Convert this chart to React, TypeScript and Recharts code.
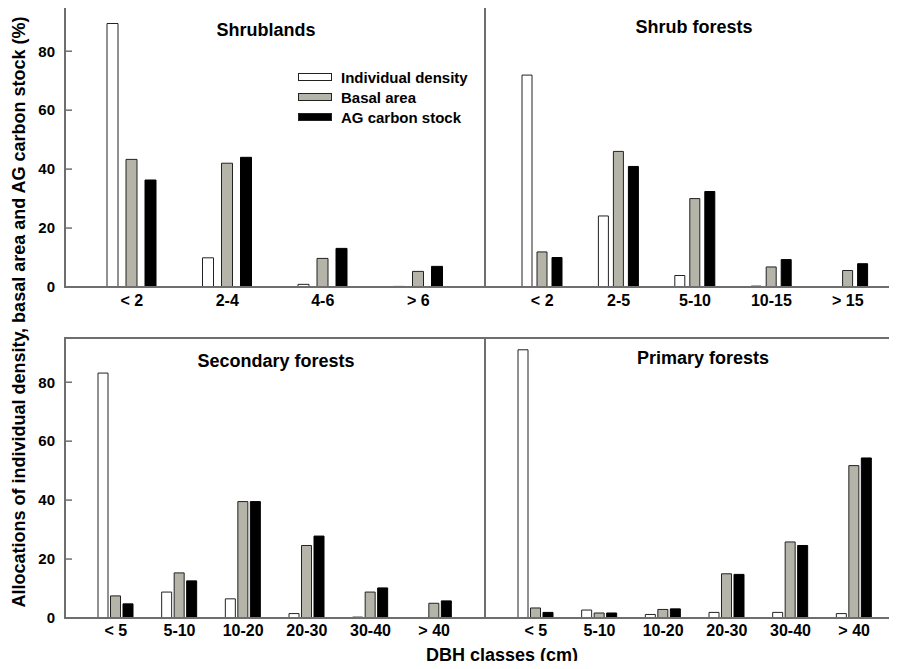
import { Bar, BarChart, Legend, XAxis, YAxis } from "recharts";

const FONT = '"Liberation Sans", Arial, sans-serif';
const GRAY_FILL = "#b4b4a9";
const FRAME = "#6e6e6e";

// Shrublands
const shrubClasses = ["< 2", "2-4", "4-6", "> 6"];
const shrubDensity = [89.4, 9.9, 0.9, 0.2];
const shrubBasal = [43.3, 42.0, 9.7, 5.3];
const shrubCarbon = [36.3, 44.0, 13.1, 7.0];

// Shrub forests
const shrubForestClasses = ["< 2", "2-5", "5-10", "10-15", "> 15"];
const shrubForestDensity = [71.9, 24.1, 3.9, 0.3, 0];
const shrubForestBasal = [11.9, 46.0, 30.0, 6.8, 5.6];
const shrubForestCarbon = [10.0, 40.9, 32.4, 9.3, 7.9];

// Secondary and primary forests share classes
const forestClasses = ["< 5", "5-10", "10-20", "20-30", "30-40", "> 40"];
const secondaryDensity = [83.1, 8.8, 6.5, 1.5, 0.3, 0];
const secondaryBasal = [7.5, 15.3, 39.5, 24.6, 8.8, 5.0];
const secondaryCarbon = [4.8, 12.6, 39.5, 27.8, 10.2, 5.8];

const primaryDensity = [91.0, 2.7, 1.2, 1.9, 1.9, 1.5];
const primaryBasal = [3.4, 1.7, 2.9, 15.0, 25.8, 51.7];
const primaryCarbon = [1.9, 1.7, 3.1, 14.8, 24.6, 54.3];

const seriesNames = ["Individual density", "Basal area", "AG carbon stock"];
const yTicks = [0, 20, 40, 60, 80];

function toRows(classes: string[], density: number[], basal: number[], carbon: number[]) {
  return classes.map((cls, i) => ({ cls, density: density[i], basal: basal[i], carbon: carbon[i] }));
}

function LegendList(props: any) {
  // keep the series order rather than the alphabetical default
  const payload = [...(props.payload || [])].sort(
    (a: any, b: any) => seriesNames.indexOf(a.value) - seriesNames.indexOf(b.value)
  );
  return (
    <div style={{ fontFamily: FONT, fontWeight: "bold", fontSize: 15, color: "#000" }}>
      {payload.map((entry: any) => (
        <div key={entry.value} style={{ display: "flex", alignItems: "center", height: 20 }}>
          <span
            style={{
              display: "inline-block",
              width: 32,
              height: 6,
              background: entry.color,
              border: "1px solid #222",
              marginRight: 9,
            }}
          />
          <span>{entry.value}</span>
        </div>
      ))}
    </div>
  );
}

interface PanelProps {
  rows: { cls: string; density: number; basal: number; carbon: number }[];
  x: number; // plot left
  y: number; // plot top
  yAxisWidth: number;
  barSize: number;
  barGap: number;
  tickMargin: number;
  showLegend?: boolean;
}

function Panel({ rows, x, y, yAxisWidth, barSize, barGap, tickMargin, showLegend }: PanelProps) {
  const showLabels = yAxisWidth > 0;
  return (
    <div style={{ position: "absolute", left: x - yAxisWidth, top: y - 7 }}>
      <BarChart
        width={yAxisWidth + 420}
        height={330}
        data={rows}
        margin={{ top: 7, right: 0, bottom: 0, left: 0 }}
        barGap={barGap}
      >
        <XAxis
          dataKey="cls"
          height={43}
          interval={0}
          padding={{ left: 19, right: 19 }}
          axisLine={false}
          tickLine={false}
          tickSize={0}
          tickMargin={tickMargin}
          tick={{ fontFamily: FONT, fontWeight: "bold", fontSize: 16, fill: "#000" }}
        />
        <YAxis
          width={yAxisWidth}
          domain={[0, 95]}
          ticks={yTicks}
          axisLine={false}
          tickLine={{ stroke: FRAME, strokeWidth: 1.5 }}
          tickSize={-7}
          tickMargin={17}
          tick={showLabels ? { fontFamily: FONT, fontWeight: "bold", fontSize: 15, fill: "#000" } : false}
        />
        {showLegend && (
          <Legend
            layout="vertical"
            align="center"
            verticalAlign="middle"
            content={<LegendList />}
            wrapperStyle={{ left: 298, top: 67, width: 200 }}
          />
        )}
        <Bar dataKey="density" name={seriesNames[0]} fill="#ffffff" stroke="#222" strokeWidth={1} barSize={barSize} isAnimationActive={false} />
        <Bar dataKey="basal" name={seriesNames[1]} fill={GRAY_FILL} stroke="#222" strokeWidth={1} barSize={barSize} isAnimationActive={false} />
        <Bar dataKey="carbon" name={seriesNames[2]} fill="#000000" stroke="#000" strokeWidth={1} barSize={barSize} isAnimationActive={false} />
      </BarChart>
    </div>
  );
}

const frame = (left: number, top: number) => (
  <div
    style={{
      position: "absolute",
      left: left - 1,
      top: top - 1,
      width: 422,
      height: 282,
      border: `2px solid ${FRAME}`,
      boxSizing: "border-box",
      pointerEvents: "none",
    }}
  />
);

const title = (text: string, cx: number, cy: number) => (
  <div
    style={{
      position: "absolute",
      left: cx,
      top: cy,
      transform: "translate(-50%, -50%)",
      whiteSpace: "nowrap",
      fontFamily: FONT,
      fontWeight: "bold",
      fontSize: 18,
      color: "#000",
    }}
  >
    {text}
  </div>
);

export default function App() {
  return (
    <div style={{ position: "relative", width: 897, height: 669, margin: -8, overflow: "hidden", background: "#fff" }}>
      <Panel rows={toRows(shrubClasses, shrubDensity, shrubBasal, shrubCarbon)} x={65} y={7} yAxisWidth={65} barSize={11} barGap={8} tickMargin={8} showLegend />
      <Panel rows={toRows(shrubForestClasses, shrubForestDensity, shrubForestBasal, shrubForestCarbon)} x={485} y={7} yAxisWidth={0} barSize={10} barGap={5} tickMargin={8} />
      <Panel rows={toRows(forestClasses, secondaryDensity, secondaryBasal, secondaryCarbon)} x={65} y={338} yAxisWidth={65} barSize={10} barGap={2.5} tickMargin={7} />
      <Panel rows={toRows(forestClasses, primaryDensity, primaryBasal, primaryCarbon)} x={485} y={338} yAxisWidth={0} barSize={10} barGap={2.5} tickMargin={7} />

      {frame(65, 7)}
      {frame(485, 7)}
      {frame(65, 338)}
      {frame(485, 338)}

      {title("Shrublands", 266, 30)}
      {title("Shrub forests", 694, 27)}
      {title("Secondary forests", 276, 361)}
      {title("Primary forests", 703, 358)}

      <div
        style={{
          position: "absolute",
          left: 19,
          top: 312,
          transform: "translate(-50%, -50%) rotate(-90deg)",
          whiteSpace: "nowrap",
          fontFamily: FONT,
          fontWeight: "bold",
          fontSize: 18,
          color: "#000",
        }}
      >
        Allocations of individual density, basal area and AG carbon stock (%)
      </div>
      <div
        style={{
          position: "absolute",
          left: 502,
          top: 655,
          transform: "translate(-50%, -50%)",
          whiteSpace: "nowrap",
          fontFamily: FONT,
          fontWeight: "bold",
          fontSize: 18,
          color: "#000",
        }}
      >
        DBH classes (cm)
      </div>
    </div>
  );
}
